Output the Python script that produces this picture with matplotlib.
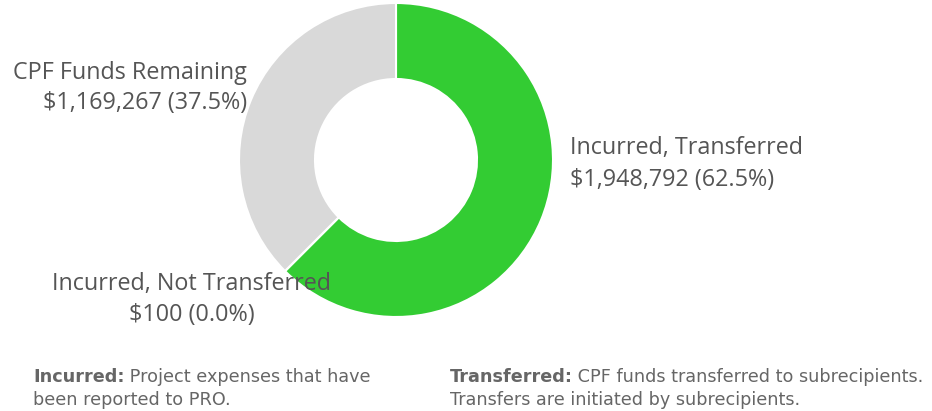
import matplotlib
matplotlib.use("Agg")
import matplotlib.pyplot as plt

# segment data, clockwise from 12 o'clock
segment_names = ["Incurred, Transferred", "Incurred, Not Transferred", "CPF Funds Remaining"]
segment_values = [1948792, 100, 1169267]
segment_colors = ["#33CC33", "#2E8B57", "#D9D9D9"]

notes = [
    ("Incurred:", " Project expenses that have", "been reported to PRO."),
    ("Transferred:", " CPF funds transferred to subrecipients.", "Transfers are initiated by subrecipients."),
]

total = sum(segment_values)
H = 411  # figure height in px, axes use y-up pixel units

fig = plt.figure(figsize=(9.32, 4.11), dpi=100)
ax = fig.add_axes([0, 0, 1, 1])

wedges, _ = ax.pie(
    segment_values,
    colors=segment_colors,
    startangle=90,
    counterclock=False,
    center=(396, H - 160),
    radius=157,
    wedgeprops=dict(width=76, edgecolor="white", linewidth=1.5),
)
ax.set_xlim(0, 932)
ax.set_ylim(0, H)
ax.set_aspect("equal")
ax.axis("off")

label_color = "#555555"
label_font = "Open Sans"
label_size = 16.8


def money(v):
    return f"${v:,} ({v / total * 100:.1f}%)"


def put(x, y, s, ha):
    ax.text(x, H - y, s, ha=ha, va="center", fontsize=label_size,
            color=label_color, family=label_font)


put(570, 148, segment_names[0], "left")
put(570, 180, money(segment_values[0]), "left")
put(247, 73, segment_names[2], "right")
put(247, 103, money(segment_values[2]), "right")
put(192, 284, segment_names[1], "center")
put(192, 315, money(segment_values[1]), "center")

# footnotes with bold lead-in
note_font = "Liberation Sans Narrow"
note_color = "#666666"
note_size = 12.7
renderer = fig.canvas.get_renderer()
for (head, rest, line2), x0 in zip(notes, [33, 450]):
    t = ax.text(x0, H - 377, head, ha="left", va="center", fontsize=note_size, fontweight="bold",
                color=note_color, family=note_font)
    bb = t.get_window_extent(renderer=renderer)
    x1 = ax.transData.inverted().transform((bb.x1, bb.y0))[0]
    ax.text(x1 - 1, H - 377, rest, ha="left", va="center", fontsize=note_size,
            color=note_color, family=note_font)
    ax.text(x0, H - 400, line2, ha="left", va="center", fontsize=note_size,
            color=note_color, family=note_font)

fig.savefig("out.png", dpi=100, facecolor="white")
